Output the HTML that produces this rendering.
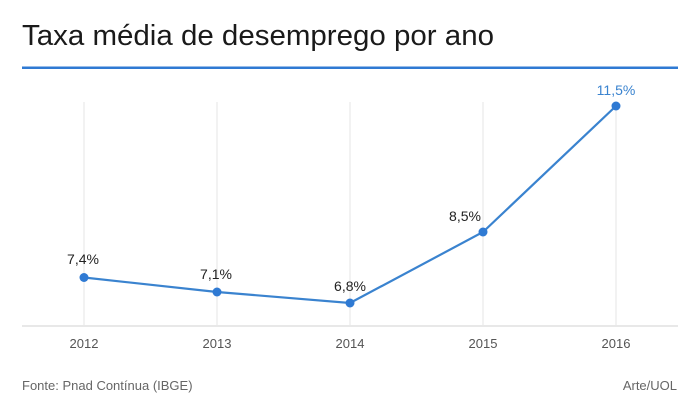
<!DOCTYPE html>
<html><head><meta charset="utf-8"><style>
html,body{margin:0;padding:0;background:#fff;width:700px;height:411px;overflow:hidden}
svg{display:block;font-family:"Liberation Sans",sans-serif}
</style></head><body>
<svg width="700" height="411" viewBox="0 0 700 411">
<text x="22" y="45" font-size="29" fill="#1a1a1a" textLength="472" lengthAdjust="spacingAndGlyphs">Taxa média de desemprego por ano</text>
<rect x="22" y="66.5" width="656" height="2.5" fill="#2f7ad3"/>
<g stroke="#e4e4e4" stroke-width="1">
<line x1="84" y1="102" x2="84" y2="325"/>
<line x1="217" y1="102" x2="217" y2="325"/>
<line x1="350" y1="102" x2="350" y2="325"/>
<line x1="483" y1="102" x2="483" y2="325"/>
<line x1="616" y1="102" x2="616" y2="325"/>
</g>
<line x1="22" y1="326" x2="678" y2="326" stroke="#e0e0e0" stroke-width="1.5"/>
<polyline points="84,277.5 217,292 350,303 483,232 616,106" fill="none" stroke="#3a83cf" stroke-width="2.2"/>
<g fill="#2f7ad3">
<circle cx="84" cy="277.5" r="4.5"/><circle cx="217" cy="292" r="4.5"/><circle cx="350" cy="303" r="4.5"/><circle cx="483" cy="232" r="4.5"/><circle cx="616" cy="106" r="4.5"/>
</g>
<g font-size="14" fill="#222" text-anchor="middle">
<text x="83" y="264">7,4%</text>
<text x="216" y="279">7,1%</text>
<text x="350" y="291">6,8%</text>
<text x="465" y="221">8,5%</text>
<text x="616" y="95" fill="#3a83cf">11,5%</text>
</g>
<g font-size="13" fill="#555" text-anchor="middle">
<text x="84" y="348">2012</text>
<text x="217" y="348">2013</text>
<text x="350" y="348">2014</text>
<text x="483" y="348">2015</text>
<text x="616" y="348">2016</text>
</g>
<text x="22" y="390" font-size="13" fill="#666">Fonte: Pnad Contínua (IBGE)</text>
<text x="677" y="390" font-size="13" fill="#666" text-anchor="end">Arte/UOL</text>
</svg>
</body></html>
